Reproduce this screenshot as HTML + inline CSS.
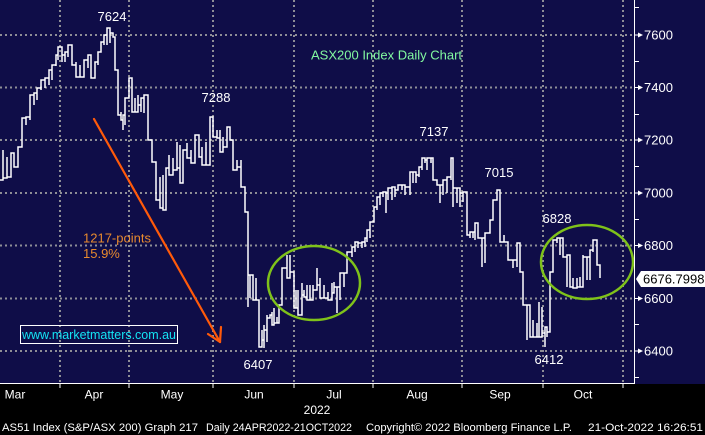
<!DOCTYPE html>
<html>
<head>
<meta charset="utf-8">
<style>
html,body{margin:0;padding:0;background:#000;}
svg{display:block;}
text{font-family:"Liberation Sans",sans-serif;}
</style>
</head>
<body>
<svg width="705" height="435" viewBox="0 0 705 435" xmlns="http://www.w3.org/2000/svg">
<rect x="0" y="0" width="705" height="435" fill="#000"/>
<rect x="0" y="0" width="705" height="384" fill="#0f0d48"/>

<!-- gridlines -->
<g stroke="#8e8e96" stroke-width="2" stroke-dasharray="2 3" fill="none">
<line x1="0" y1="35" x2="634" y2="35"/>
<line x1="0" y1="87.5" x2="634" y2="87.5"/>
<line x1="0" y1="140" x2="634" y2="140"/>
<line x1="0" y1="193" x2="634" y2="193"/>
<line x1="0" y1="245.5" x2="634" y2="245.5"/>
<line x1="0" y1="298.5" x2="634" y2="298.5"/>
<line x1="0" y1="351" x2="634" y2="351"/>
<line x1="60" y1="0" x2="60" y2="383"/>
<line x1="129" y1="0" x2="129" y2="383"/>
<line x1="213" y1="0" x2="213" y2="383"/>
<line x1="294" y1="0" x2="294" y2="383"/>
<line x1="373" y1="0" x2="373" y2="383"/>
<line x1="462" y1="0" x2="462" y2="383"/>
<line x1="543" y1="0" x2="543" y2="383"/>
<line x1="623" y1="0" x2="623" y2="383"/>
</g>

<!-- price line -->
<path fill="none" stroke="#fff" stroke-width="1.5" stroke-linejoin="miter" d="M0 180 H3 V150 V178 H7 V157 V177 H11 V153 H14 V167 H18 V147 H22 V118 H26 V125 V117 H30 V120 V95 H34 V105 V93 H37 V100 V88 H41 V90 V80 H45 V88 V78 H49 V85 V70 H52 V80 V65 H56 V66 V55 H58 V60 V47 H62 V62 V55 H65 V62 V52 H68 V57 V45 H72 V55 V65 H76 V62 V77 H80 V65 V77 H84 V60 H88 V68 V55 H91 V62 V78 H95 V62 H98 V65 V52 H101 V42 H104 V45 V35 H107 V45 V28 H110 V43 V33 H113 V37 H115 V70 H118 V108 V115 H121 V112 V120 H123 V130 V115 H125 V125 V98 H129 V78 H132 V112 H135 V98 V112 H138 V95 V105 H141 V112 V98 H144 V113 V95 H148 V97 V140 H152 V162 H156 V200 H160 V177 V208 H163 V175 V210 H166 V205 V168 H169 V155 V175 H173 V158 V170 H177 V142 V168 H180 V145 V183 H183 V175 V150 H187 V143 V158 H191 V150 V163 H195 V157 V135 H199 V143 V157 H202 V147 V165 H206 V142 V165 H210 V143 V117 H213 V137 H217 V130 V138 H220 V130 V152 H223 V137 V147 H227 V138 V127 H230 V132 V140 H233 V170 H237 V160 V167 H241 V160 V187 H245 V212 H248 V307 V275 H250 V298 V275 H253 V300 H256 V278 V300 H259 V347 H262 V330 V340 H264 V325 V348 V330 H267 V315 V342 V318 H270 V315 H272 V312 V325 H274 V308 V323 H277 V317 V323 H279 V305 H282 V268 H287 V255 V278 H290 V255 V272 H294 V308 H296 V290 V308 H298 V290 V315 H302 V283 V315 V295 H304 V290 V297 H307 V285 V300 H310 V285 V300 H313 V285 V300 V290 H317 V268 V285 H320 V278 V298 H324 V285 V298 H328 V292 V300 H332 V283 V293 H334 V282 V287 H337 V313 V287 H340 V300 V273 H344 V287 V273 H347 V252 H352 V257 V247 H355 V252 V242 H358 V248 V243 H362 V248 V242 H365 V247 V238 H367 V242 V230 H370 V238 V222 H374 V207 H377 V210 V197 H380 V205 V193 H383 V197 V192 H386 V213 V193 H388 V200 V188 H392 V200 V187 H395 V197 V190 H398 V188 V185 H402 V190 V185 H405 V195 V187 H410 V195 V172 H413 V183 V172 H416 V183 V175 H419 V177 V167 H422 V170 V158 H425 V163 V160 H427 V170 V158 H431 V163 V158 H433 V162 V180 H437 V185 H440 V203 V185 H443 V195 V180 H447 V193 V177 H451 V180 V158 H453 V165 V207 V188 H457 V203 V188 H460 V207 V193 H463 V202 V192 H467 V197 V235 H470 V238 V232 H473 V238 V232 H475 V240 V223 H478 V230 V238 H482 V267 V238 H485 V263 V233 H490 V233 V220 H493 V220 V200 H497 V200 V190 H500 V242 H504 V235 V242 H508 V260 H513 V268 V260 H517 V267 V243 H520 V243 V272 H523 V305 H527 V340 V305 H530 V323 V337 H533 V320 V337 H537 V323 V337 H539 V302 V337 H542 V307 V333 H545 V347 V327 H547 V337 V332 H550 V272 H553 V240 H557 V243 V238 H560 V255 V238 H563 V242 V257 H567 V287 V255 H570 V278 V287 H573 V278 V288 H577 V278 V287 H580 V277 V287 H583 V255 V287 V257 H587 V280 V257 H590 V280 V250 H593 V252 V240 H597 V247 V265 H600 V278 V270"/>

<!-- ellipses -->
<ellipse cx="314" cy="283" rx="46" ry="37" fill="none" stroke="#7fc21a" stroke-width="2.5"/>
<ellipse cx="587" cy="262" rx="46" ry="37" fill="none" stroke="#7fc21a" stroke-width="2.5"/>

<!-- orange arrow -->
<g stroke="#ff5a0a" stroke-width="2.2" fill="none" stroke-linecap="round">
<line x1="94" y1="119" x2="220" y2="342"/>
<line x1="220" y1="342" x2="208" y2="334"/>
<line x1="220" y1="342" x2="221" y2="327"/>
</g>

<!-- annotations -->
<g font-size="13" fill="#ffffff" text-anchor="middle">
<text x="112" y="21">7624</text>
<text x="216" y="102">7288</text>
<text x="434" y="136">7137</text>
<text x="499" y="177">7015</text>
<text x="557" y="223">6828</text>
<text x="549" y="364">6412</text>
<text x="258" y="369">6407</text>
</g>
<text x="311" y="59.5" font-size="13" fill="#82f8a0">ASX200 Index Daily Chart</text>
<text x="83" y="242.5" font-size="13" fill="#e88a2e">1217-points</text>
<text x="83" y="258" font-size="13" fill="#e88a2e">15.9%</text>

<rect x="20.5" y="325.5" width="157" height="18" fill="none" stroke="#fff" stroke-width="1"/>
<text x="22" y="339" font-size="13" fill="#14e4f4" textLength="154" lengthAdjust="spacingAndGlyphs">www.marketmatters.com.au</text>

<!-- axes -->
<g stroke="#fff" stroke-width="1" fill="none">
<line x1="634.5" y1="0" x2="634.5" y2="384"/>
<line x1="0" y1="383.5" x2="635" y2="383.5"/>
<line x1="60" y1="384" x2="60" y2="388"/>
<line x1="129" y1="384" x2="129" y2="388"/>
<line x1="213" y1="384" x2="213" y2="388"/>
<line x1="294" y1="384" x2="294" y2="388"/>
<line x1="373" y1="384" x2="373" y2="388"/>
<line x1="462" y1="384" x2="462" y2="388"/>
<line x1="543" y1="384" x2="543" y2="388"/>
<line x1="623" y1="384" x2="623" y2="388"/>
<line x1="634" y1="7.5" x2="639" y2="7.5"/>
<line x1="634" y1="61.5" x2="639" y2="61.5"/>
<line x1="634" y1="114.5" x2="639" y2="114.5"/>
<line x1="634" y1="166.5" x2="639" y2="166.5"/>
<line x1="634" y1="219.5" x2="639" y2="219.5"/>
<line x1="634" y1="324.5" x2="639" y2="324.5"/>
<line x1="634" y1="377.5" x2="639" y2="377.5"/>
<line x1="634" y1="35" x2="639" y2="35"/>
<line x1="634" y1="87.5" x2="639" y2="87.5"/>
<line x1="634" y1="140" x2="639" y2="140"/>
<line x1="634" y1="193" x2="639" y2="193"/>
<line x1="634" y1="245.5" x2="639" y2="245.5"/>
<line x1="634" y1="298.5" x2="639" y2="298.5"/>
<line x1="634" y1="351" x2="639" y2="351"/>
</g>
<g fill="#fff">
<polygon points="638,32.5 643,35 638,37.5"/>
<polygon points="638,85 643,87.5 638,90"/>
<polygon points="638,137.5 643,140 638,142.5"/>
<polygon points="638,190.5 643,193 638,195.5"/>
<polygon points="638,243 643,245.5 638,248"/>
<polygon points="638,296 643,298.5 638,301"/>
<polygon points="638,348.5 643,351 638,353.5"/>
</g>
<g font-size="13" fill="#fff">
<text x="644" y="39.5">7600</text>
<text x="644" y="92">7400</text>
<text x="644" y="144.5">7200</text>
<text x="644" y="197.5">7000</text>
<text x="644" y="250">6800</text>
<text x="644" y="303">6600</text>
<text x="644" y="355.5">6400</text>
</g>

<!-- last price label -->
<polygon points="636,279 641,271 705,271 705,287 641,287" fill="#fff"/>
<text x="643" y="283.5" font-size="13" fill="#000">6676.7998</text>

<!-- x labels -->
<g font-size="12" fill="#fff" text-anchor="middle">
<text x="15" y="398.5">Mar</text>
<text x="94" y="398.5">Apr</text>
<text x="172" y="398.5">May</text>
<text x="254" y="398.5">Jun</text>
<text x="334" y="398.5">Jul</text>
<text x="417" y="398.5">Aug</text>
<text x="500" y="398.5">Sep</text>
<text x="583" y="398.5">Oct</text>
<text x="317" y="414">2022</text>
</g>

<!-- footer -->
<g font-size="11" fill="#fff">
<text x="2" y="431" textLength="196" lengthAdjust="spacingAndGlyphs">AS51 Index (S&amp;P/ASX 200) Graph 217</text>
<text x="206" y="431" textLength="146" lengthAdjust="spacingAndGlyphs">Daily 24APR2022-21OCT2022</text>
<text x="366" y="431" textLength="206" lengthAdjust="spacingAndGlyphs">Copyright© 2022 Bloomberg Finance L.P.</text>
<text x="588" y="431" textLength="115" lengthAdjust="spacingAndGlyphs">21-Oct-2022 16:26:51</text>
</g>
</svg>
</body>
</html>
